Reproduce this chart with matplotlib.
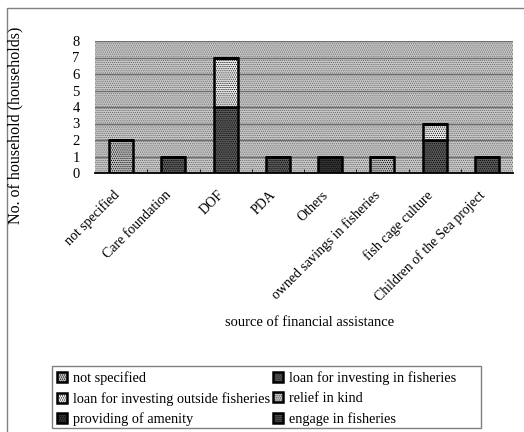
from matplotlib import pyplot as plt
from matplotlib.patches import Rectangle
import numpy as np

plt.rcParams['font.family'] = ['Liberation Serif', 'DejaVu Serif']
plt.rcParams['hatch.linewidth'] = 0.5

categories = ['not specified', 'Care foundation', 'DOF', 'PDA', 'Others',
              'owned savings in fisheries', 'fish cage culture',
              'Children of the Sea project']

# households per source, one list per type of use
not_specified = [2, 0, 0, 0, 0, 1, 0, 0]
loan_in_fisheries = [0, 1, 4, 1, 0, 0, 2, 1]
loan_outside_fisheries = [0, 0, 3, 0, 0, 0, 1, 0]
relief_in_kind = [0, 0, 0, 0, 0, 0, 0, 0]
providing_amenity = [0, 0, 0, 0, 1, 0, 0, 0]
engage_fisheries = [0, 0, 0, 0, 0, 0, 0, 0]

series = [
    ('not specified', not_specified, '#bcbcbc'),
    ('loan for investing in fisheries', loan_in_fisheries, '#5a5a5a'),
    ('loan for investing outside fisheries', loan_outside_fisheries, '#ececec'),
    ('relief in kind', relief_in_kind, '#d8d8d8'),
    ('providing of amenity', providing_amenity, '#343434'),
    ('engage in fisheries', engage_fisheries, '#4c4c4c'),
]

fig = plt.figure(figsize=(5.24, 4.32), dpi=100)

# outer chart frame (right and bottom run off the page)
fig.patches.append(Rectangle((7/524, -0.1), 1.2, 1.1 - 8/432, transform=fig.transFigure,
                             fill=False, edgecolor='#808080', linewidth=1))

ax = fig.add_axes([95/524, 1 - 173/432, 418/524, 132/432])

# dotted plot area
ax.add_patch(Rectangle((0, 0), 1, 1, transform=ax.transAxes, facecolor='#c8c8c8',
                       edgecolor='#626262', hatch='........', linewidth=0, zorder=0))

x = np.arange(len(categories))
bottom = np.zeros(len(categories))
handles = {}
for name, vals, col in series:
    vals = np.array(vals, dtype=float)
    bars = ax.bar(x, vals, 0.46, bottom=bottom, color=col, edgecolor='black',
                  linewidth=1.8, hatch='........', zorder=3)
    handles[name] = bars
    bottom += vals

ax.set_xlim(-0.5, len(categories) - 0.5)
ax.set_ylim(0, 8)
ax.set_yticks(range(0, 9))
for y in range(1, 9):
    ax.axhline(y, color='#6e6e6e', linewidth=1, zorder=1)

for s in ['top', 'right', 'left']:
    ax.spines[s].set_visible(False)
ax.spines['bottom'].set_linewidth(1.3)
ax.spines['bottom'].set_zorder(4)

# labels sit a little left of the bar centres
ax.set_xticks(x - 0.17, categories, rotation=45, ha='right', rotation_mode='anchor',
              fontsize=10)
ax.set_xticks(np.arange(0.5, len(categories) - 0.5), minor=True)
ax.tick_params(axis='x', which='major', length=0, pad=11)
ax.tick_params(axis='x', which='minor', direction='in', length=3, color='black')
ax.tick_params(axis='y', length=0, pad=11, labelsize=10.5)

fig.text(310/524, 1 - 323/432, 'source of financial assistance', ha='center', va='center',
         fontsize=10.5)
fig.text(15/524, 1 - 125/432, 'No. of household (households)', rotation=90,
         ha='center', va='center', fontsize=11.5)

# legend frame drawn on its own so the box can be wider than the entries
fig.patches.append(Rectangle((52/524, 1 - 428/432), 429/524, 62/432, transform=fig.transFigure,
                             fill=False, edgecolor='#808080', linewidth=1))
order = ['not specified', 'loan for investing outside fisheries', 'providing of amenity',
         'loan for investing in fisheries', 'relief in kind', 'engage in fisheries']
leg = fig.legend([handles[n] for n in order], order, ncol=2, loc='upper left',
                 bbox_to_anchor=(53/524, 1 - 367/432), frameon=False,
                 borderaxespad=0, fontsize=10.3,
                 handlelength=0.7, handleheight=0.7, handletextpad=0.4,
                 columnspacing=0.2, labelspacing=0.48, borderpad=0.3)

fig.savefig('out.png', dpi=100)
